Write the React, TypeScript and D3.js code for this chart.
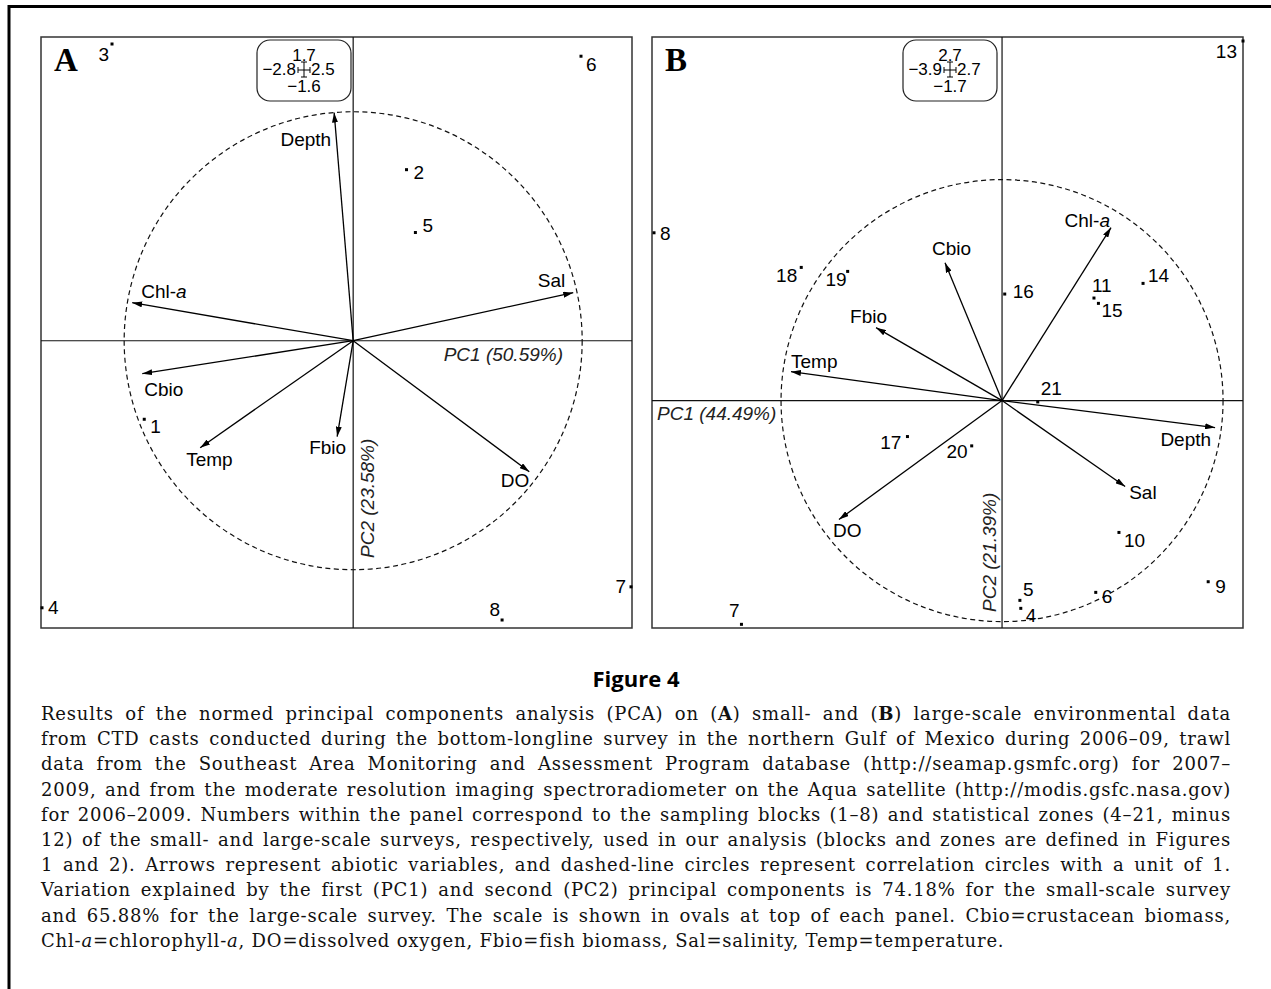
import React, { useEffect, useRef } from 'react';
import * as d3 from 'd3';

// Panel A: small-scale survey (blocks 1-8)
const A_VARS = ['Depth', 'Chl-a', 'Sal', 'Cbio', 'Temp', 'Fbio', 'DO'];
const A_VAR_PC1 = [-0.083, -0.965, 0.961, -0.921, -0.668, -0.07, 0.769];
const A_VAR_PC2 = [0.996, 0.166, 0.21, -0.144, -0.467, -0.419, -0.572];
const A_SITES = ['1', '2', '3', '4', '5', '6', '7', '8'];
const A_SITE_PC1 = [-1.88, 0.48, -2.17, -2.8, 0.56, 2.05, 2.5, 1.34];
const A_SITE_PC2 = [-0.45, 0.98, 1.7, -1.53, 0.62, 1.63, -1.41, -1.6];
const A_XLIM = [-2.8, 2.5];
const A_YLIM = [-1.6, 1.7];
const A_AXIS_LABELS = ['PC1 (50.59%)', 'PC2 (23.58%)'];

// Panel B: large-scale survey (zones 4-21, minus 12)
const B_VARS = ['Chl-a', 'Depth', 'Sal', 'Cbio', 'Fbio', 'Temp', 'DO'];
const B_VAR_PC1 = [0.493, 0.964, 0.557, -0.258, -0.57, -0.955, -0.738];
const B_VAR_PC2 = [0.783, -0.122, -0.389, 0.624, 0.33, 0.131, -0.538];
const B_SITES = ['4', '5', '6', '7', '8', '9', '10', '11', '13', '14', '15', '16', '17', '18', '19', '20', '21'];
const B_SITE_PC1 = [0.21, 0.2, 1.05, -2.92, -3.9, 2.31, 1.31, 1.03, 2.7, 1.58, 1.08, 0.03, -1.06, -2.25, -1.73, -0.34, 0.4];
const B_SITE_PC2 = [-1.56, -1.5, -1.44, -1.68, 1.26, -1.36, -0.99, 0.77, 2.7, 0.88, 0.73, 0.8, -0.27, 1.0, 0.97, -0.34, -0.01];
const B_XLIM = [-3.9, 2.7];
const B_YLIM = [-1.7, 2.7];
const B_AXIS_LABELS = ['PC1 (44.49%)', 'PC2 (21.39%)'];

const CAPTION_TITLE = 'Figure 4';
const CAPTION_LINES = [
  'Results of the normed principal components analysis (PCA) on (**A**) small- and (**B**) large-scale environmental data',
  'from CTD casts conducted during the bottom-longline survey in the northern Gulf of Mexico during 2006–09, trawl',
  'data from the Southeast Area Monitoring and Assessment Program database (http://seamap.gsmfc.org) for 2007–',
  '2009, and from the moderate resolution imaging spectroradiometer on the Aqua satellite (http://modis.gsfc.nasa.gov)',
  'for 2006–2009. Numbers within the panel correspond to the sampling blocks (1–8) and statistical zones (4–21, minus',
  '12) of the small- and large-scale surveys, respectively, used in our analysis (blocks and zones are defined in Figures',
  '1 and 2). Arrows represent abiotic variables, and dashed-line circles represent correlation circles with a unit of 1.',
  'Variation explained by the first (PC1) and second (PC2) principal components is 74.18% for the small-scale survey',
  'and 65.88% for the large-scale survey. The scale is shown in ovals at top of each panel. Cbio=crustacean biomass,',
  'Chl-_a_=chlorophyll-_a_, DO=dissolved oxygen, Fbio=fish biomass, Sal=salinity, Temp=temperature.',
];

const SANS = '"Liberation Sans", Arial, Helvetica, sans-serif';
const SERIF = '"DejaVu Serif", "Liberation Serif", serif';
const fmt = d3.format('.1f');

// label placement relative to arrow tips / dots: [dx, dy, anchor]
const A_VAR_NUDGE = {
  Depth: [-3, 33, 'end'], 'Chl-a': [9, -5, 'start'], Sal: [-8, -6, 'end'], Cbio: [2, 22, 'start'],
  Temp: [-14, 18, 'start'], Fbio: [9, 17, 'end'], DO: [0, 15, 'end'],
};
const B_VAR_NUDGE = {
  'Chl-a': [-1, -1, 'end'], Depth: [-4, 18, 'end'], Sal: [4, 12, 'start'], Cbio: [-13, -8, 'start'],
  Fbio: [11, -5, 'end'], Temp: [0, -4, 'start'], DO: [-6, 18, 'start'],
};
const A_SITE_NUDGE = {
  1: [6, 14, 'start'], 2: [7, 9, 'start'], 3: [-3, 17, 'end'], 4: [6, 6, 'start'],
  5: [7, -1, 'start'], 6: [5, 15, 'start'], 7: [-5, 6, 'end'], 8: [-2, -4, 'end'],
};
const B_SITE_NUDGE = {
  4: [5, 14, 'start'], 5: [3, -4, 'start'], 6: [6, 11, 'start'], 7: [-2, -7, 'end'], 8: [6, 7, 'start'],
  9: [7, 11, 'start'], 10: [5, 15, 'start'], 11: [-2, -6, 'start'], 13: [-6, 17, 'end'], 14: [5, -1, 'start'],
  15: [3, 14, 'start'], 16: [8, 4, 'start'], 17: [-6, 12, 'end'], 18: [-4, 15, 'end'], 19: [-1, 15, 'end'],
  20: [-4, 12, 'end'], 21: [3, -7, 'start'],
};

function varText(name) {
  if (name.endsWith('-a')) {
    return [name.slice(0, -1), <tspan key="a" fontStyle="italic">a</tspan>];
  }
  return name;
}

function ScaleBox({ cx, top, xlim, ylim }) {
  const w = 94, h = 61;
  const my = top + 30;
  return (
    <g fontFamily={SANS} fontSize={17} fill="#000">
      <rect x={cx - w / 2} y={top} width={w} height={h} rx={13} ry={13} fill="#fff" stroke="#222" strokeWidth={1.2} />
      <text x={cx} y={top + 21} textAnchor="middle">{fmt(ylim[1])}</text>
      <text x={cx - 8} y={top + 35} textAnchor="end">{fmt(xlim[0])}</text>
      <text x={cx + 7} y={top + 35} textAnchor="start">{fmt(xlim[1])}</text>
      <text x={cx} y={top + 52} textAnchor="middle">{fmt(ylim[0])}</text>
      <g stroke="#000" strokeWidth={1} fill="none">
        <line x1={cx} x2={cx} y1={my - 8} y2={my + 7} />
        <line x1={cx - 3} x2={cx + 3} y1={my - 8} y2={my - 8} />
        <line x1={cx - 3} x2={cx + 3} y1={my + 7} y2={my + 7} />
        <line x1={cx - 6} x2={cx + 6} y1={my} y2={my} />
        <line x1={cx - 6} x2={cx - 6} y1={my - 3} y2={my + 3} />
        <line x1={cx + 6} x2={cx + 6} y1={my - 3} y2={my + 3} />
      </g>
    </g>
  );
}

function Panel(p) {
  const x = d3.scaleLinear().domain(p.xlim).range(p.xr);
  const y = d3.scaleLinear().domain(p.ylim).range(p.yr);
  const ox = x(0);
  const oy = y(0);
  const r = d3.scaleLinear().domain([0, 1]).range([0, p.radius]);
  const f = p.frame;

  return (
    <g>
      <rect x={f[0]} y={f[1]} width={f[2] - f[0]} height={f[3] - f[1]} fill="none" stroke="#333" strokeWidth={1.5} />
      <line x1={f[0]} x2={f[2]} y1={oy} y2={oy} stroke="#111" strokeWidth={1.2} />
      <line x1={ox} x2={ox} y1={f[1]} y2={f[3]} stroke="#111" strokeWidth={1.2} />
      <circle cx={ox} cy={oy} r={r(1)} fill="none" stroke="#111" strokeWidth={1.2} strokeDasharray="5,3.5" />

      <ScaleBox cx={p.boxX} top={p.boxTop} xlim={p.xlim} ylim={p.ylim} />

      <text x={f[0] + 13} y={71} fontFamily='"Liberation Serif", "Times New Roman", serif' fontWeight="bold" fontSize={33}>{p.letter}</text>

      <g fontFamily={SANS} fontSize={19} fontStyle="italic" fill="#222">
        <text x={p.pc1At[0]} y={p.pc1At[1]} textAnchor={p.pc1At[2]}>{p.axisLabels[0]}</text>
        <text transform={`translate(${p.pc2At[0]},${p.pc2At[1]}) rotate(-90)`}>{p.axisLabels[1]}</text>
      </g>

      <g stroke="#000" strokeWidth={1.3}>
        {p.vars.map((v, i) => (
          <line key={v} x1={ox} y1={oy} x2={ox + r(p.vx[i])} y2={oy - r(p.vy[i])} markerEnd="url(#arrowhead)" />
        ))}
      </g>
      <g fontFamily={SANS} fontSize={19} fill="#000">
        {p.vars.map((v, i) => {
          const [dx, dy, anchor] = p.varNudge[v];
          return (
            <text key={v} x={ox + r(p.vx[i]) + dx} y={oy - r(p.vy[i]) + dy} textAnchor={anchor}>{varText(v)}</text>
          );
        })}
      </g>

      <g fontFamily={SANS} fontSize={19} fill="#000">
        {p.sites.map((s, i) => {
          const [dx, dy, anchor] = p.siteNudge[s];
          const px = x(p.sx[i]);
          const py = y(p.sy[i]);
          return (
            <g key={s}>
              <rect x={px - 1.5} y={py - 1.5} width={3} height={3} fill="#000" />
              <text x={px + dx} y={py + dy} textAnchor={anchor}>{s}</text>
            </g>
          );
        })}
      </g>
    </g>
  );
}

function renderMarkup(line) {
  const parts = line.split(/(\*\*[^*]+\*\*|_[^_]+_)/).filter((s) => s !== '');
  return parts.map((s, i) => {
    if (s.startsWith('**')) return <tspan key={i} fontWeight="bold">{s.slice(2, -2)}</tspan>;
    if (s.startsWith('_')) return <tspan key={i} fontStyle="italic">{s.slice(1, -1)}</tspan>;
    return <tspan key={i}>{s}</tspan>;
  });
}

const CAP_LEFT = 41;
const CAP_RIGHT = 1231;

function Caption() {
  const ref = useRef(null);

  useEffect(() => {
    // justify every line but the last by spreading the gaps between words
    d3.select(ref.current)
      .selectAll('text.just')
      .each(function () {
        const node = this;
        const w = node.getComputedTextLength();
        const gaps = (node.textContent.match(/ /g) || []).length;
        if (gaps > 0) d3.select(node).style('word-spacing', `${(CAP_RIGHT - CAP_LEFT - w) / gaps}px`);
      });
  }, []);

  return (
    <g ref={ref}>
      <text x={636} y={687} textAnchor="middle" fontFamily='"Open Sans", "DejaVu Sans", sans-serif' fontWeight="bold" fontSize={22}>
        {CAPTION_TITLE}
      </text>
      <g fontFamily={SERIF} fontSize={18} letterSpacing={0.8} fill="#111">
        {CAPTION_LINES.map((line, i) => (
          <text key={i} className={i < CAPTION_LINES.length - 1 ? 'just' : ''} x={CAP_LEFT} y={720 + i * 25.2}>
            {renderMarkup(line)}
          </text>
        ))}
      </g>
    </g>
  );
}

export default function App() {
  return (
    <svg width={1271} height={989} style={{ position: 'absolute', left: 0, top: 0, background: '#fff' }}>
      <defs>
        <marker id="arrowhead" viewBox="0 0 10 6" refX={10} refY={3} markerWidth={10} markerHeight={6} markerUnits="userSpaceOnUse" orient="auto">
          <path d="M0,0L10,3L0,6Z" fill="#000" />
        </marker>
      </defs>
      <rect x={0} y={0} width={1271} height={989} fill="#fff" />
      <path d="M9,1000V6.5H1280" fill="none" stroke="#000" strokeWidth={3} />

      <Panel
        letter="A"
        frame={[41, 37, 632, 628]}
        xr={[42, 631]}
        yr={[620, 44]}
        xlim={A_XLIM}
        ylim={A_YLIM}
        radius={229}
        vars={A_VARS}
        vx={A_VAR_PC1}
        vy={A_VAR_PC2}
        varNudge={A_VAR_NUDGE}
        sites={A_SITES}
        sx={A_SITE_PC1}
        sy={A_SITE_PC2}
        siteNudge={A_SITE_NUDGE}
        axisLabels={A_AXIS_LABELS}
        pc1At={[563, 361, 'end']}
        pc2At={[374, 558]}
        boxX={304}
        boxTop={40}
      />
      <Panel
        letter="B"
        frame={[652, 37, 1243, 628]}
        xr={[654, 1243]}
        yr={[627, 41]}
        xlim={B_XLIM}
        ylim={B_YLIM}
        radius={221}
        vars={B_VARS}
        vx={B_VAR_PC1}
        vy={B_VAR_PC2}
        varNudge={B_VAR_NUDGE}
        sites={B_SITES}
        sx={B_SITE_PC1}
        sy={B_SITE_PC2}
        siteNudge={B_SITE_NUDGE}
        axisLabels={B_AXIS_LABELS}
        pc1At={[657, 420, 'start']}
        pc2At={[996, 612]}
        boxX={950}
        boxTop={40}
      />
      <Caption />
    </svg>
  );
}
